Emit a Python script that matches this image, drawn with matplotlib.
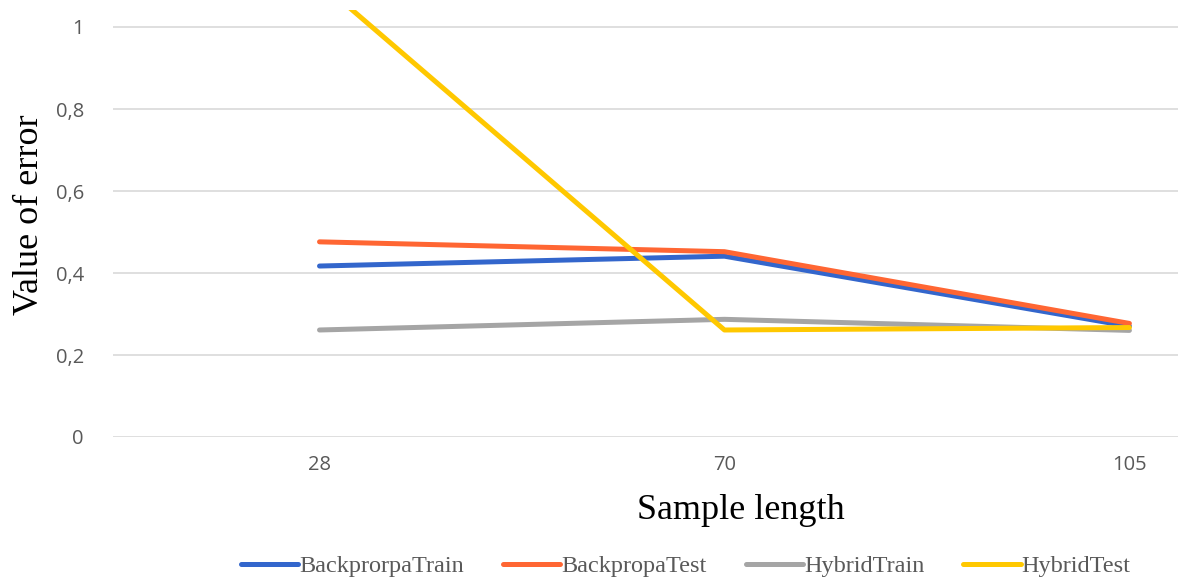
import matplotlib.pyplot as plt

# categories and series
sample_length = ['28', '70', '105']
backprop_train = [0.417, 0.441, 0.270]
backprop_test = [0.476, 0.452, 0.277]
hybrid_train = [0.261, 0.287, 0.260]
hybrid_test = [1.11, 0.261, 0.267]
yticks = [0, 0.2, 0.4, 0.6, 0.8, 1]
ytick_labels = ['0', '0,2', '0,4', '0,6', '0,8', '1']

fig = plt.figure(figsize=(11.78, 5.79), dpi=100)
# plot area: left 113 px, top 10 px, bottom (zero line) 437 px
ax = fig.add_axes([113 / 1178, 1 - 437 / 579, 1 - 113 / 1178, 427 / 579])

x = range(len(sample_length))
ax.plot(x, backprop_train, color='#3366CC', lw=3.6, label='BackprorpaTrain', solid_capstyle='round')
ax.plot(x, backprop_test, color='#FF6633', lw=3.6, label='BackpropaTest', solid_capstyle='round')
ax.plot(x, hybrid_train, color='#A5A5A5', lw=3.6, label='HybridTrain', solid_capstyle='round')
ax.plot(x, hybrid_test, color='#FFC800', lw=3.6, label='HybridTest', solid_capstyle='round')

ax.set_xlim(-0.51, 2.12)
ax.set_ylim(0, 427 / 410)
ax.set_yticks(yticks)
ax.set_yticklabels(ytick_labels)
ax.set_xticks(list(x))
ax.set_xticklabels(sample_length)
ax.grid(axis='y', color='#D9D9D9', lw=1.2)
ax.set_axisbelow(True)
for s in ax.spines.values():
    s.set_visible(False)
ax.tick_params(length=0, labelsize=14.5, labelcolor='#595959')
ax.tick_params(axis='y', pad=21)
ax.tick_params(axis='x', pad=13)
for lbl in ax.get_xticklabels() + ax.get_yticklabels():
    lbl.set_family('Open Sans')

ax.set_xlabel('Sample length', family='Liberation Serif', fontsize=26)
ax.xaxis.set_label_coords((741 - 113) / 1065, -0.133)
ax.set_ylabel('Value of error', family='Liberation Serif', fontsize=26)
ax.yaxis.set_label_coords(-0.063, (437 - 215) / 427)

leg = fig.legend(loc='center', bbox_to_anchor=(686 / 1178, 1 - 566 / 579), ncol=4,
                 frameon=False, handlelength=2.35, handletextpad=0.05, columnspacing=1.6,
                 prop={'family': 'Liberation Serif', 'size': 17.5})
for t in leg.get_texts():
    t.set_color('#595959')

fig.savefig('out.png', dpi=100)
